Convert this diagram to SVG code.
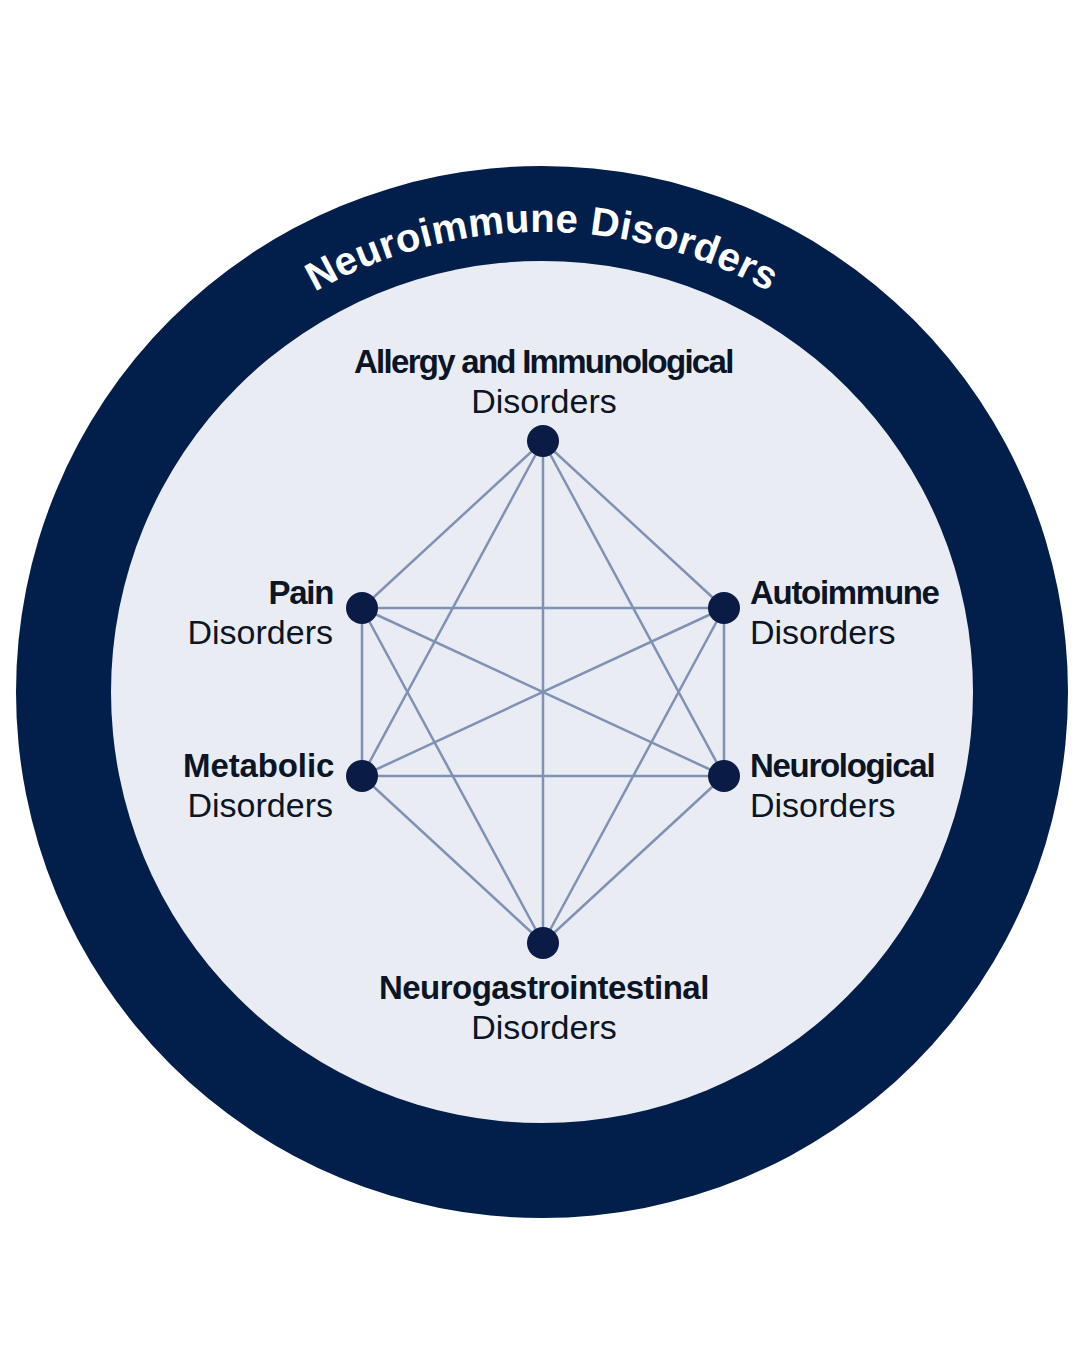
<svg xmlns="http://www.w3.org/2000/svg" width="1080" height="1350" viewBox="0 0 1080 1350">
<style>
.ring{fill:#021f4b}
.inner{fill:#e9edf3}
.edge{stroke:#7f92b5;stroke-width:2.5;fill:none}
.node{fill:#0a1c45}
.b{font-family:"Liberation Sans",Arial,sans-serif;font-weight:700;font-size:33px;fill:#0b1526;letter-spacing:-1.3px}
.r{font-family:"Liberation Sans",Arial,sans-serif;font-weight:400;font-size:34px;fill:#0b1526}
.arc{font-family:"Liberation Sans",Arial,sans-serif;font-weight:700;font-size:40px;fill:#ffffff;letter-spacing:0.4px}
</style>
<defs>
<path id="arcPath" d="M 82 692 A 460 460 0 0 1 1002 692"/>
</defs>
<rect width="1080" height="1350" fill="#ffffff"/>
<g id="outer-ring">
<circle class="ring" cx="542" cy="692" r="526"/>
<circle class="inner" cx="542" cy="692" r="431"/>
<text class="arc"><textPath href="#arcPath" startOffset="50%" text-anchor="middle">Neuroimmune Disorders</textPath></text>
</g>
<g id="connectors">
<line class="edge" x1="543" y1="441" x2="362" y2="608"/>
<line class="edge" x1="543" y1="441" x2="724" y2="608"/>
<line class="edge" x1="543" y1="441" x2="362" y2="776"/>
<line class="edge" x1="543" y1="441" x2="724" y2="776"/>
<line class="edge" x1="543" y1="441" x2="543" y2="943"/>
<line class="edge" x1="362" y1="608" x2="724" y2="608"/>
<line class="edge" x1="362" y1="608" x2="362" y2="776"/>
<line class="edge" x1="362" y1="608" x2="724" y2="776"/>
<line class="edge" x1="362" y1="608" x2="543" y2="943"/>
<line class="edge" x1="724" y1="608" x2="362" y2="776"/>
<line class="edge" x1="724" y1="608" x2="724" y2="776"/>
<line class="edge" x1="724" y1="608" x2="543" y2="943"/>
<line class="edge" x1="362" y1="776" x2="724" y2="776"/>
<line class="edge" x1="362" y1="776" x2="543" y2="943"/>
<line class="edge" x1="724" y1="776" x2="543" y2="943"/>
</g>
<g id="node-allergy">
<circle class="node" cx="543" cy="441" r="16"/>
<text class="b" x="354" y="373" textLength="379" lengthAdjust="spacing">Allergy and Immunological</text>
<text class="r" x="544" y="413" text-anchor="middle">Disorders</text>
</g>
<g id="node-pain">
<circle class="node" cx="362" cy="608" r="16"/>
<text class="b" x="333" y="604" text-anchor="end">Pain</text>
<text class="r" x="333" y="644" text-anchor="end">Disorders</text>
</g>
<g id="node-autoimmune">
<circle class="node" cx="724" cy="608" r="16"/>
<text class="b" x="750" y="604">Autoimmune</text>
<text class="r" x="750" y="644">Disorders</text>
</g>
<g id="node-metabolic">
<circle class="node" cx="362" cy="776" r="16"/>
<text class="b" x="183" y="777" textLength="150" lengthAdjust="spacing">Metabolic</text>
<text class="r" x="333" y="817" text-anchor="end">Disorders</text>
</g>
<g id="node-neurological">
<circle class="node" cx="724" cy="776" r="16"/>
<text class="b" x="750" y="777">Neurological</text>
<text class="r" x="750" y="817">Disorders</text>
</g>
<g id="node-neurogastro">
<circle class="node" cx="543" cy="943" r="16"/>
<text class="b" x="379" y="999" textLength="329" lengthAdjust="spacing">Neurogastrointestinal</text>
<text class="r" x="544" y="1039" text-anchor="middle">Disorders</text>
</g>
</svg>
